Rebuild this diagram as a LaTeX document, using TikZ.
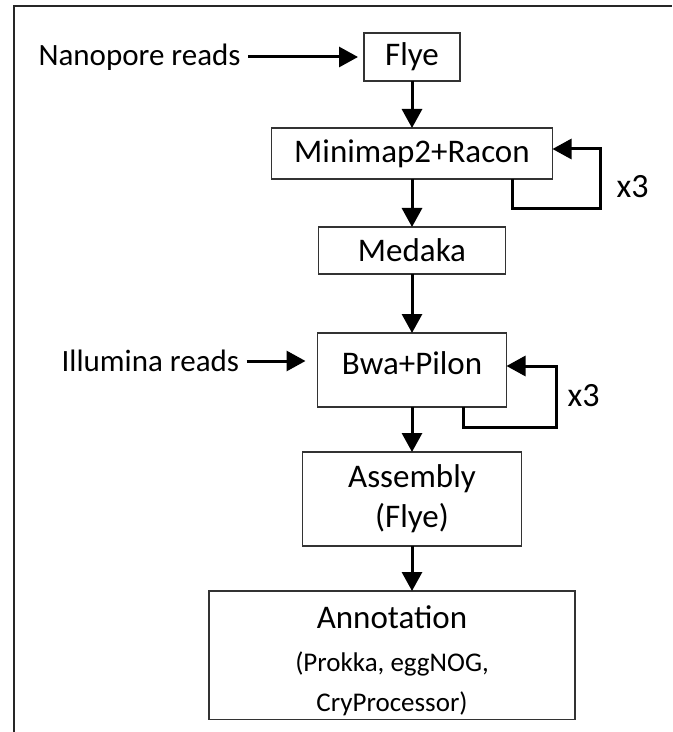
\documentclass[tikz,border=0pt]{standalone}
\usepackage{fontspec}
\setmainfont{Carlito}
\usepackage{tikz}
\usetikzlibrary{positioning,arrows.meta}
\newcommand{\boxfont}{\fontsize{16.5}{20}\selectfont}
\newcommand{\subfont}{\fontsize{13.5}{16}\selectfont}

\begin{document}
\begin{tikzpicture}[x=1pt,y=1pt,
	stage/.style={draw=black!80, line width=0.8pt, outer sep=0pt, inner sep=2pt, align=center, font=\boxfont, text=black},
	source/.style={inner sep=1.5pt, font=\fontsize{15.5}{19}\selectfont, text=black},
	loopcount/.style={inner sep=0pt, font=\fontsize{17}{20}\selectfont, text=black},
	flow/.style={line width=1.5pt, -{Triangle[length=9.5pt,width=10pt]}}]
	\useasboundingbox (0,0) rectangle (336.5,-366);
	\draw[line width=1.2pt, black!85] (7,-366) |- (336,-3);

	\node[stage, minimum width=48pt, minimum height=24pt] (flye) at (206,-28.5) {Flye};
	\node[stage, minimum width=140.5pt, minimum height=25.5pt, below=23.5pt of flye] (mmracon) {Minimap2+Racon};
	\node[stage, minimum width=93.5pt, minimum height=23.5pt, below=24pt of mmracon] (medaka) {Medaka};
	\node[stage, minimum width=94.5pt, minimum height=37pt, text depth=7pt, below=29.5pt of medaka] (bwapilon) {Bwa+Pilon};
	\node[stage, minimum width=109.5pt, minimum height=47pt, below=22.5pt of bwapilon] (assembly) {Assembly\\(Flye)};
	\node[stage, minimum width=183pt, minimum height=63.5pt, below=22.5pt of assembly, xshift=-10pt] (annot) {\rule{0pt}{16.5pt}Annotation\\[1.5pt]\subfont (Prokka, eggNOG,\\\subfont CryProcessor)};

	\node[source, left=60pt of flye] (nanopore) {Nanopore reads};
	\node[source, left=37.5pt of bwapilon, yshift=4.5pt] (illumina) {Illumina reads};

	\node[loopcount] (mmx3) at ([xshift=40pt,yshift=-16.75pt]mmracon.east) {x3};
	\node[loopcount] (bwax3) at ([xshift=38.5pt,yshift=-13pt]bwapilon.east) {x3};

	\draw[flow, shorten <=2pt, shorten >=3pt] (nanopore.east) -- (flye.west);
	\draw[flow, shorten <=2pt, shorten >=6pt] (illumina.east) -- (illumina.east -| bwapilon.west);
	\draw[flow] (flye.south) -- (mmracon.north);
	\draw[flow] (mmracon.south) -- (medaka.north);
	\draw[flow] (medaka.south) -- (bwapilon.north);
	\draw[flow] (bwapilon.south) -- (assembly.north);
	\draw[flow] (assembly.south) -- (assembly.south |- annot.north);

	% polishing rounds
	\draw[flow] ([xshift=50pt]mmracon.south) -- ++(0,-15) -| ([xshift=24pt,yshift=2.25pt]mmracon.east) -- ([yshift=2.25pt]mmracon.east);
	\draw[flow] ([xshift=25.5pt]bwapilon.south) -- ++(0,-10) -| ([xshift=24.75pt,yshift=2pt]bwapilon.east) -- ([yshift=2pt]bwapilon.east);
\end{tikzpicture}
\end{document}
